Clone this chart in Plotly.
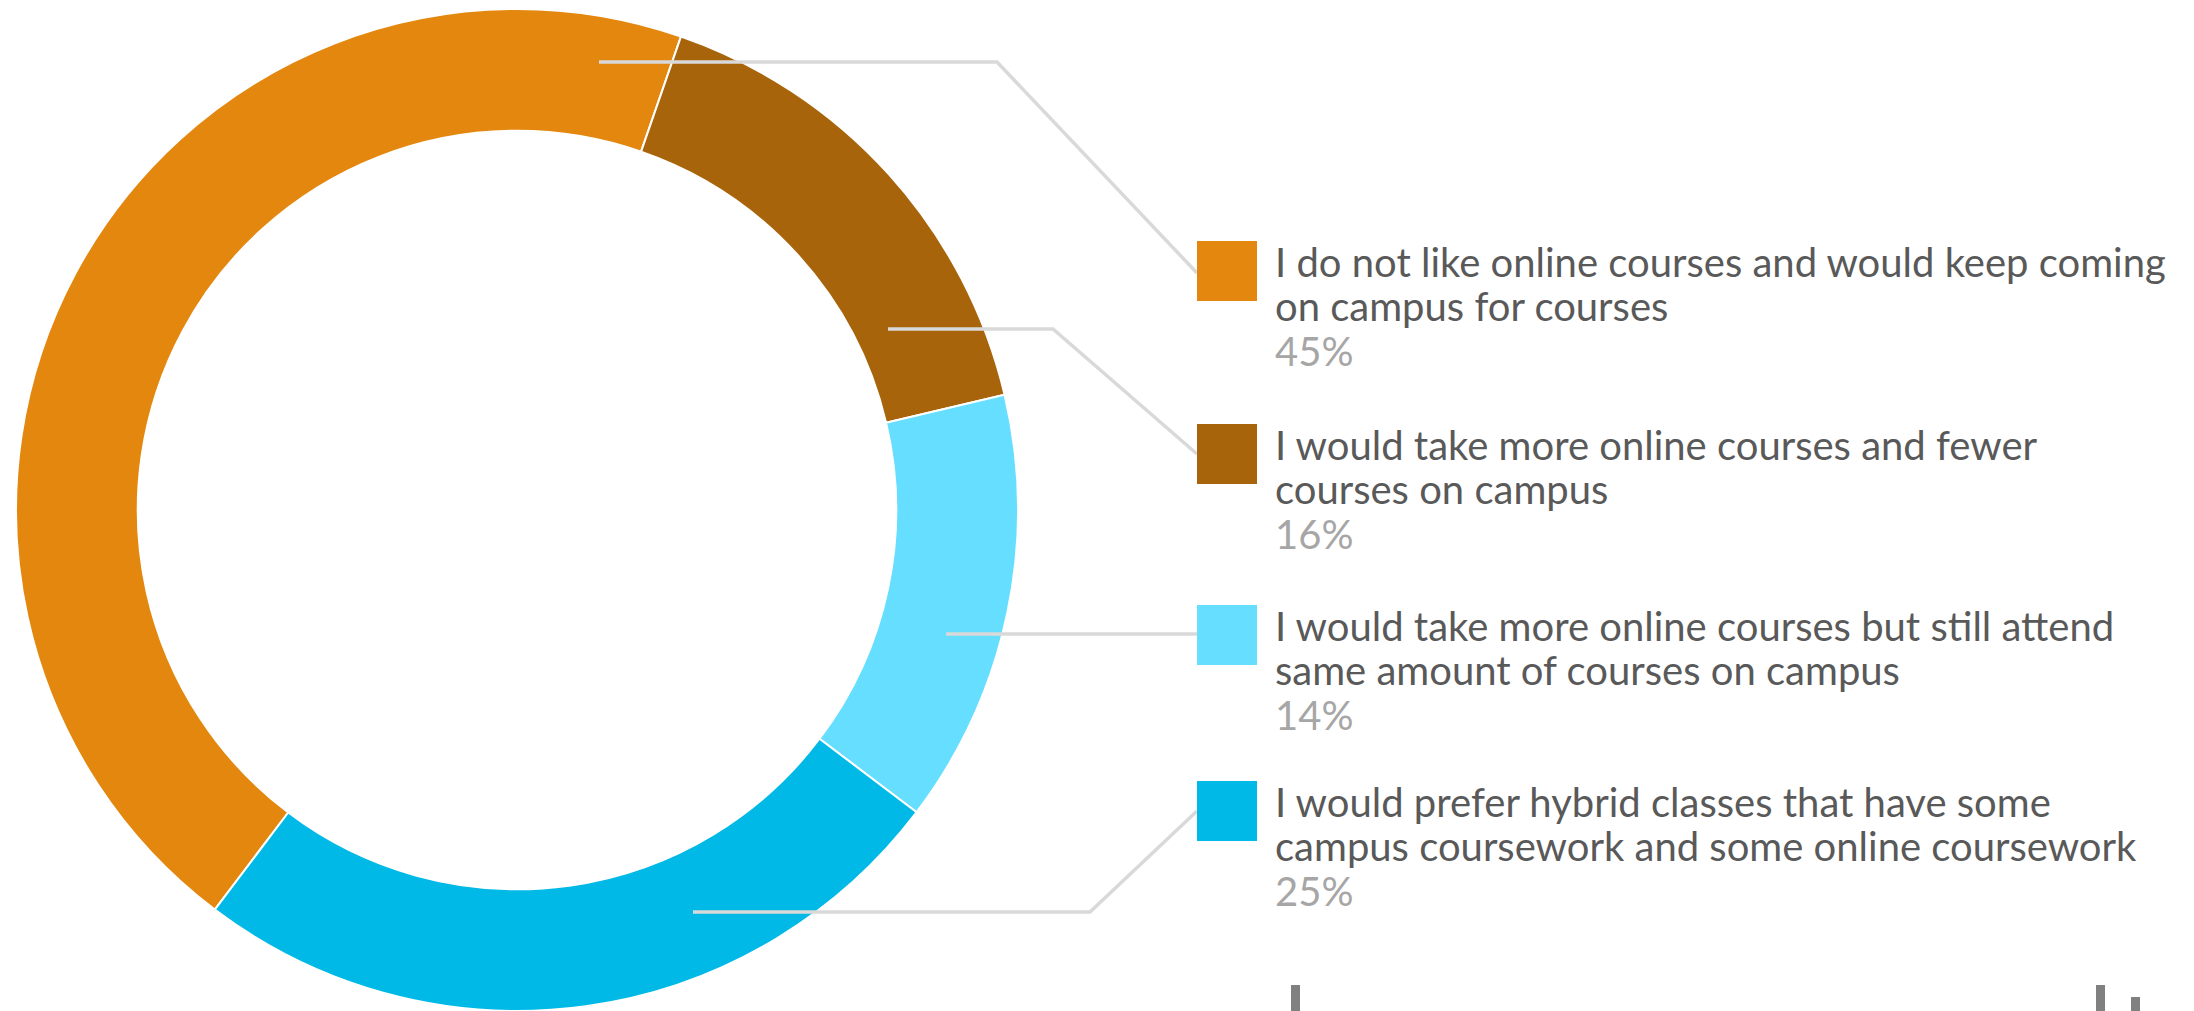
import plotly.graph_objects as go

W, H = 2194, 1011

label_line1 = [
    "I do not like online courses and would keep coming",
    "I would take more online courses and fewer",
    "I would take more online courses but still attend",
    "I would prefer hybrid classes that have some",
]
label_line2 = [
    "on campus for courses",
    "courses on campus",
    "same amount of courses on campus",
    "campus coursework and some online coursework",
]
values = [45, 16, 14, 25]
colors = ["#E3870E", "#A8640A", "#66DEFF", "#00B9E6"]
labels = [a + " " + b for a, b in zip(label_line1, label_line2)]


def px(x):
    return x / W


def py(y):
    return 1 - y / H


fig = go.Figure()
fig.add_trace(go.Pie(
    labels=labels,
    values=values,
    sort=False,
    direction="clockwise",
    rotation=-142.9,
    hole=0.757,
    marker=dict(colors=colors, line=dict(color="white", width=2)),
    textinfo="none",
    hoverinfo="label+percent",
    domain=dict(x=[px(16), px(1018)], y=[0, py(9)]),
    showlegend=False,
))

# leader lines (pixel layout positions)
leaders = [
    [(599, 62), (997, 62), (1197, 273)],
    [(888, 329), (1053, 329), (1197, 454)],
    [(946, 634), (1197, 634)],
    [(693, 912), (1090, 912), (1197, 811)],
]
shapes = []
for pts in leaders:
    path = "M " + " L ".join(f"{px(x)},{py(y)}" for x, y in pts)
    shapes.append(dict(type="path", xref="paper", yref="paper", path=path,
                       line=dict(color="#D9D9D9", width=3.5), layer="above"))

# legend squares + texts
item_top = [241, 424, 605, 781]
sq = 60
annotations = []
total = sum(values)
for i, col in enumerate(colors):
    t = item_top[i]
    shapes.append(dict(type="rect", xref="paper", yref="paper",
                       x0=px(1197), x1=px(1197 + sq), y0=py(t + sq), y1=py(t),
                       fillcolor=col, line=dict(width=0)))
    pct = round(100 * values[i] / total)
    rows = [
        (label_line1[i], t + 21, "#595959"),
        (label_line2[i], t + 65, "#595959"),
        (f"{pct}%", t + 110, "#A6A6A6"),
    ]
    for txt, yc, c in rows:
        annotations.append(dict(
            xref="paper", yref="paper", x=px(1273), y=py(yc),
            xanchor="left", yanchor="middle", align="left", showarrow=False,
            text=txt, font=dict(family="Lato", size=40, color=c),
        ))

# cut-off marks at bottom edge
for x0, y0 in [(1291, 985), (2096, 985), (2131, 997)]:
    shapes.append(dict(type="rect", xref="paper", yref="paper",
                       x0=px(x0), x1=px(x0 + 9), y0=0, y1=py(y0),
                       fillcolor="#808080", line=dict(width=0)))

fig.update_layout(
    width=W, height=H,
    margin=dict(l=0, r=0, t=0, b=0),
    paper_bgcolor="white", plot_bgcolor="white",
    shapes=shapes, annotations=annotations,
    showlegend=False,
)

fig.write_html("out.html",
               config={"displayModeBar": False},
               post_script="document.body.style.margin='0px';document.body.style.overflow='hidden';")
